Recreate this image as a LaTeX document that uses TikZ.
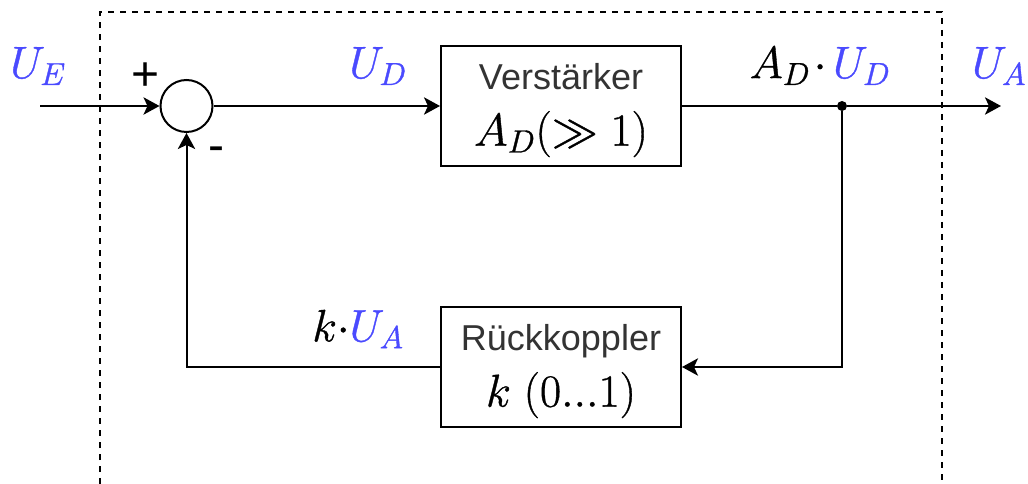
\RequirePackage{fix-cm}
\documentclass[tikz,border=0pt]{standalone}
\usepackage{amssymb}
\usepackage{fontspec}
\setmainfont{Liberation Sans}
\usetikzlibrary{arrows.meta}
\definecolor{sigblue}{RGB}{74,74,255}
\definecolor{txtgray}{RGB}{51,51,51}
\newcommand{\heavy}[1]{\special{pdf:code 2 Tr 0.28 w}#1\special{pdf:code 0 Tr}}
\newcommand{\bl}[1]{{\color{sigblue}#1}}
\newcommand{\boxmath}{\fontsize{34.5}{40}\selectfont\color{black}}
\tikzset{
  x=0.75pt,y=-0.75pt,
  wire/.style={draw=black,line width=1.5pt,-{Stealth[length=12pt,width=13pt,inset=3pt]}},
  plainwire/.style={draw=black,line width=1.5pt},
  blockbox/.style={draw=black,line width=1.5pt,fill=white,minimum width=180pt,minimum height=90pt,inner sep=0pt,align=center,font=\fontsize{27}{38}\selectfont,text=txtgray},
  sumnode/.style={circle,draw=black,line width=1.5pt,fill=white,minimum size=39pt,inner sep=0pt},
  dot/.style={circle,fill=black,minimum size=7.5pt,inner sep=0pt},
  lab/.style={inner sep=0pt,font=\fontsize{34}{40}\selectfont},
  signlab/.style={inner sep=0pt,font=\fontsize{36}{40}\selectfont},
  frameline/.style={draw=black,line width=1pt,dash pattern=on 4.5pt off 4.5pt},
}
\begin{document}
\begin{tikzpicture}
\useasboundingbox (0,0) rectangle (1028,484);
\draw[frameline] (100,484) -- (100,12) -- (942,12) -- (942,484);
\coordinate (in) at (40,106);
\coordinate (out) at (1001,106);
\node[sumnode] (sum) at (186.5,106) {};
\node[blockbox] (amp) at (561,106) {\rule{0pt}{26pt}Verstärker\\[4pt]\boxmath\heavy{$A_D(\gg 1)$}};
\node[blockbox] (fb) at (561,367) {\rule{0pt}{26pt}Rückkoppler\\[4pt]\boxmath\heavy{$k\ (0...1)$}};
\node[dot] (j) at (842,106) {};
\draw[wire] (in) -- (sum);
\draw[wire] (sum) -- (amp);
\draw[plainwire] (amp) -- (j);
\draw[wire] (j) -- (out);
\draw[wire] (j) |- (fb);
\draw[wire] (fb) -| (sum);
\node[lab] (lue) at (38,66) {\heavy{\bl{$U_E$}}};
\node[lab] (lud) at (378,66) {\heavy{\bl{$U_D$}}};
\node[lab] (lad) at (820,66) {\heavy{$A_D\mkern1.4mu{\cdot}\mkern2.6mu\bl{U_D}$}};
\node[lab] (lua) at (999,66) {\heavy{\bl{$U_A$}}};
\node[lab] (lka) at (358,329) {\heavy{$k{\cdot}\bl{U_A}$}};
\node[signlab] (plus) at (146,77) {+};
\node[signlab] (minus) at (216.5,154) {-};
\end{tikzpicture}
\end{document}
